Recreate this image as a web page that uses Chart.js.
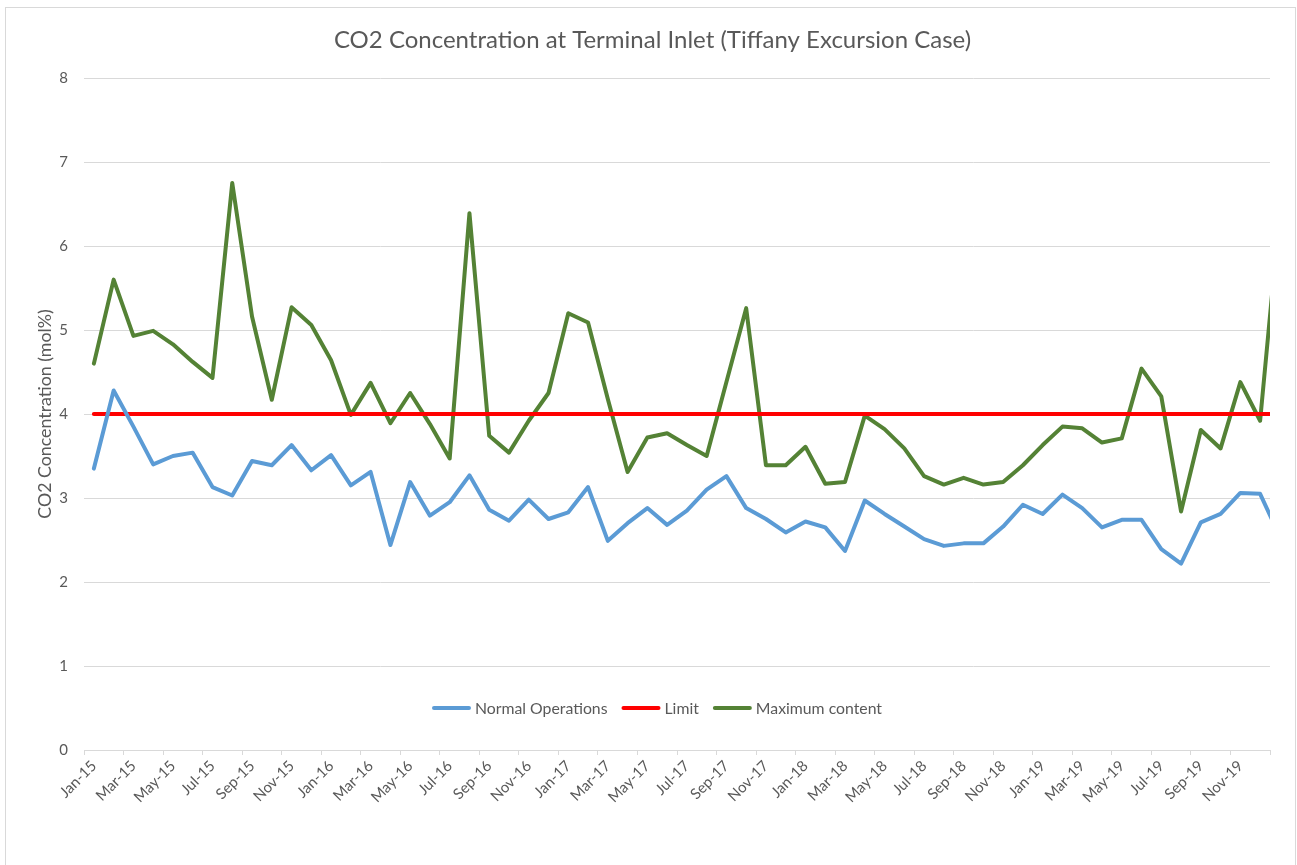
<!DOCTYPE html>
<html>
<head>
<meta charset="utf-8">
<script src="https://cdn.jsdelivr.net/npm/chart.js@4.4.1/dist/chart.umd.min.js"></script>
<style>
  html, body { margin: 0; padding: 0; background: #ffffff; }
  #wrap { position: absolute; left: 0; top: 0; width: 1297px; height: 865px; }
</style>
</head>
<body>
<div id="wrap"><canvas id="c" width="1297" height="865"></canvas></div>
<script>
// ---- data ----
const months = [
  'Jan-15','Feb-15','Mar-15','Apr-15','May-15','Jun-15','Jul-15','Aug-15','Sep-15','Oct-15','Nov-15','Dec-15',
  'Jan-16','Feb-16','Mar-16','Apr-16','May-16','Jun-16','Jul-16','Aug-16','Sep-16','Oct-16','Nov-16','Dec-16',
  'Jan-17','Feb-17','Mar-17','Apr-17','May-17','Jun-17','Jul-17','Aug-17','Sep-17','Oct-17','Nov-17','Dec-17',
  'Jan-18','Feb-18','Mar-18','Apr-18','May-18','Jun-18','Jul-18','Aug-18','Sep-18','Oct-18','Nov-18','Dec-18',
  'Jan-19','Feb-19','Mar-19','Apr-19','May-19','Jun-19','Jul-19','Aug-19','Sep-19','Oct-19','Nov-19','Dec-19',
  'Jan-20'
];
const visibleMonths = 60; // axis runs Jan-15 .. Dec-19; Jan-20 point is clipped at the edge

const normalOperations = [
  3.35, 4.28, 3.85, 3.40, 3.50, 3.54, 3.13, 3.03, 3.44, 3.39, 3.63, 3.33,
  3.51, 3.15, 3.31, 2.44, 3.19, 2.79, 2.95, 3.27, 2.86, 2.73, 2.98, 2.75,
  2.83, 3.13, 2.49, 2.70, 2.88, 2.68, 2.85, 3.10, 3.26, 2.88, 2.75, 2.59,
  2.72, 2.65, 2.37, 2.97, 2.81, 2.66, 2.51, 2.43, 2.46, 2.46, 2.66, 2.92,
  2.81, 3.04, 2.88, 2.65, 2.74, 2.74, 2.39, 2.22, 2.71, 2.81, 3.06, 3.05,
  2.54
];
const limit = [
  4, 4, 4, 4, 4, 4, 4, 4, 4, 4, 4, 4,
  4, 4, 4, 4, 4, 4, 4, 4, 4, 4, 4, 4,
  4, 4, 4, 4, 4, 4, 4, 4, 4, 4, 4, 4,
  4, 4, 4, 4, 4, 4, 4, 4, 4, 4, 4, 4,
  4, 4, 4, 4, 4, 4, 4, 4, 4, 4, 4, 4,
  4
];
const maximumContent = [
  4.60, 5.60, 4.93, 4.99, 4.83, 4.62, 4.43, 6.75, 5.16, 4.17, 5.27, 5.06,
  4.64, 3.99, 4.37, 3.89, 4.25, 3.88, 3.47, 6.39, 3.74, 3.54, 3.92, 4.25,
  5.20, 5.09, 4.18, 3.31, 3.72, 3.77, 3.63, 3.50, 4.38, 5.26, 3.39, 3.39,
  3.61, 3.17, 3.19, 3.98, 3.82, 3.59, 3.26, 3.16, 3.24, 3.16, 3.19, 3.39,
  3.63, 3.85, 3.83, 3.66, 3.71, 4.54, 4.21, 2.84, 3.81, 3.59, 4.38, 3.92,
  6.42
];
const yTickValues = [0, 1, 2, 3, 4, 5, 6, 7, 8];

// ---- styling ----
const FONT = 'Lato';
const TEXT = '#595959';
const GRID = '#d9d9d9';

const toPoints = arr => arr.map((v, i) => ({ x: i, y: v }));

const framePlugin = {
  id: 'frame',
  beforeDraw(chart) {
    const ctx = chart.ctx;
    ctx.save();
    ctx.fillStyle = '#ffffff';
    ctx.fillRect(0, 0, chart.width, chart.height);
    ctx.strokeStyle = GRID;
    ctx.lineWidth = 1;
    ctx.strokeRect(5.5, 7.5, 1290, 870);
    ctx.restore();
  }
};

const legendPlugin = {
  id: 'xlLegend',
  afterDatasetsDraw(chart) {
    const ctx = chart.ctx;
    ctx.save();
    ctx.font = '15.8px ' + FONT;
    const sample = 39, gapText = 4, gapItem = 14;
    const items = chart.data.datasets.map(d => ({
      text: d.label, color: d.borderColor, w: ctx.measureText(d.label).width
    }));
    const total = items.reduce((s, it) => s + sample + gapText + it.w, 0) + gapItem * (items.length - 1);
    const area = chart.chartArea;
    let x = (area.left + area.right) / 2 - 20 - total / 2;
    const y = area.bottom - 42;
    items.forEach(it => {
      ctx.strokeStyle = it.color;
      ctx.lineWidth = 4;
      ctx.lineCap = 'round';
      ctx.beginPath();
      ctx.moveTo(x + 2, y);
      ctx.lineTo(x + sample - 2, y);
      ctx.stroke();
      ctx.fillStyle = TEXT;
      ctx.textAlign = 'left';
      ctx.textBaseline = 'middle';
      ctx.fillText(it.text, x + sample + gapText, y + 1);
      x += sample + gapText + it.w + gapItem;
    });
    ctx.restore();
  }
};

const ctx = document.getElementById('c').getContext('2d');
new Chart(ctx, {
  type: 'line',
  data: {
    datasets: [
      { label: 'Normal Operations', data: toPoints(normalOperations), borderColor: '#5B9BD5', borderWidth: 4 },
      { label: 'Limit', data: toPoints(limit), borderColor: '#FF0000', borderWidth: 4 },
      { label: 'Maximum content', data: toPoints(maximumContent), borderColor: '#548235', borderWidth: 4 }
    ]
  },
  options: {
    responsive: false,
    animation: false,
    devicePixelRatio: 1,
    layout: { padding: { left: 35, right: 27, top: 0, bottom: 0 } },
    elements: {
      point: { radius: 0, hoverRadius: 0 },
      line: { tension: 0, borderJoinStyle: 'round', borderCapStyle: 'round', fill: false }
    },
    plugins: {
      legend: { display: false },
      tooltip: { enabled: false },
      title: {
        display: true,
        text: 'CO2 Concentration at Terminal Inlet (Tiffany Excursion Case)',
        color: TEXT,
        font: { family: FONT, size: 24, weight: 'normal' },
        padding: { top: 25.6, bottom: 23.6 }
      }
    },
    scales: {
      x: {
        type: 'linear',
        min: -0.5,
        max: visibleMonths - 0.5,
        afterBuildTicks(scale) {
          const t = [];
          for (let i = 0; i <= visibleMonths; i += 2) t.push({ value: i - 0.5 });
          scale.ticks = t;
        },
        afterFit(scale) { scale.height = 115; },
        grid: { drawOnChartArea: false, drawTicks: true, tickLength: 5, color: GRID },
        border: { display: true, color: GRID, width: 1 },
        ticks: {
          autoSkip: false,
          minRotation: 45,
          maxRotation: 45,
          labelOffset: 10,
          padding: 2,
          color: TEXT,
          font: { family: FONT, size: 15 },
          callback(value) {
            const idx = Math.round(value + 0.5);
            return idx < visibleMonths ? months[idx] : '';
          }
        }
      },
      y: {
        min: 0,
        max: 8,
        afterBuildTicks(scale) { scale.ticks = yTickValues.map(v => ({ value: v })); },
        afterFit(scale) { scale.width = 49; },
        grid: { color: GRID, drawTicks: false, lineWidth: 1 },
        border: { display: false },
        ticks: { padding: 16, color: TEXT, font: { family: FONT, size: 15 } },
        title: {
          display: true,
          text: 'CO2 Concentration (mol%)',
          color: TEXT,
          font: { family: FONT, size: 17.8 },
          padding: 0
        }
      }
    }
  },
  plugins: [framePlugin, legendPlugin]
});
</script>
</body>
</html>
